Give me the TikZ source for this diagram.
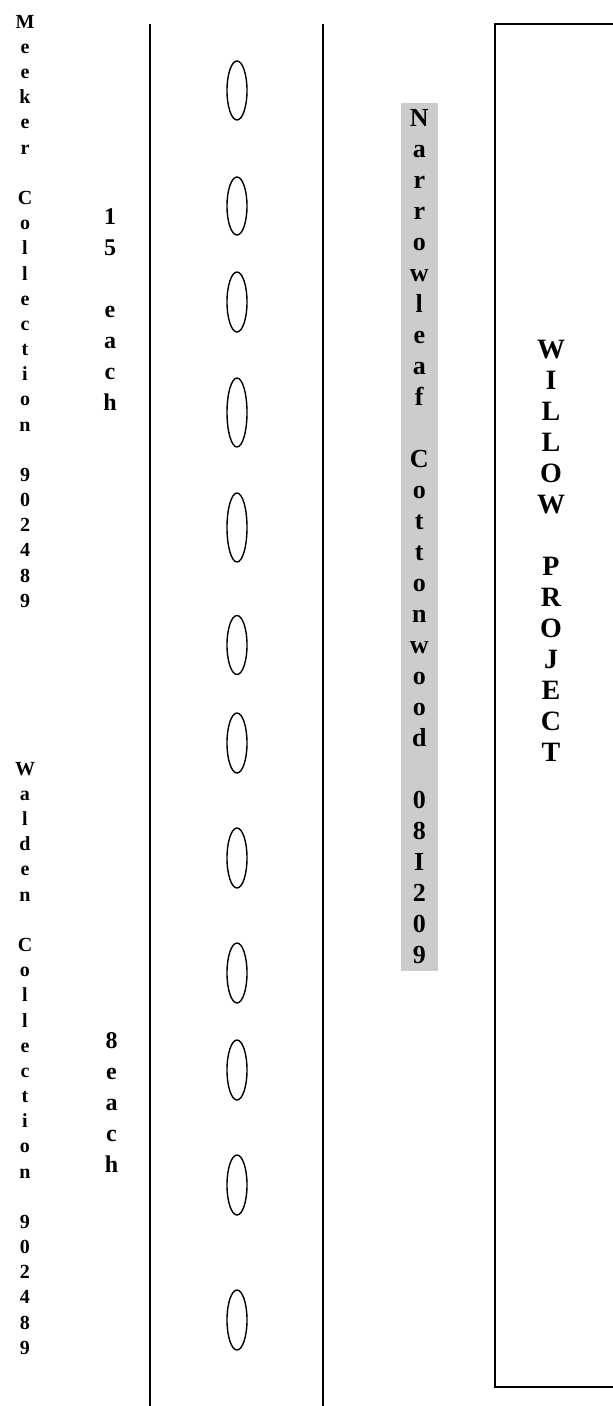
\documentclass[tikz,border=0pt]{standalone}
\usepackage{fontspec}
\setmainfont{Liberation Serif}
\usepackage{xcolor}
\usepackage{tikz}
\usetikzlibrary{positioning,shapes.geometric}
\definecolor{wpgray}{RGB}{204,204,204}
\tikzset{
  rail/.style={draw=black, line width=2pt},
  plant/.style={ellipse, draw=black, line width=1.4pt, minimum width=20pt,
                minimum height=59pt, inner sep=0pt},
  coll/.style={anchor=north, align=center, inner sep=0pt,
               font=\fontsize{20}{25.17}\selectfont\bfseries},
  qty/.style={anchor=north, align=center, inner sep=0pt,
              font=\fontsize{24}{31}\selectfont\bfseries},
  clone/.style={anchor=north, align=center, fill=wpgray, inner xsep=0pt,
                inner ysep=7pt, minimum width=37pt,
                font=\fontsize{26}{31}\selectfont\bfseries},
  banner/.style={anchor=north, align=center, inner sep=0pt,
                 font=\fontsize{28}{31}\selectfont\bfseries},
}
\begin{document}
\begin{tikzpicture}[x=1pt, y=-1pt]
\useasboundingbox (0,0) rectangle (613,1406);
% Planting row seen from above: two rails, one line of plants between
% them, the two source collections on the left, the clone on the right.
\def\xa{150} \def\xb{323} \def\xp{237}

% row edges
\draw[rail] (\xa,24) -- (\xa,1406);
\draw[rail] (\xb,24) -- (\xb,1406);

% plants, two longer ones in the Meeker stretch
\foreach \py/\ph [count=\i] in {90.5/59, 206/58, 302/60, 412.5/69, 527.5/69,
                                645/59, 743/60, 858/60, 973/60, 1070/60,
                                1185/60, 1320/60}
  \node[plant, minimum height=\ph pt] (p\i) at (\xp,\py) {};

% source collections, read top to bottom
\node[coll] (meeker) at (25,15)
  {M\\e\\e\\k\\e\\r\\~\\C\\o\\l\\l\\e\\c\\t\\i\\o\\n\\~\\9\\0\\2\\4\\8\\9};
\node[coll] (walden) at (25,762)
  {W\\a\\l\\d\\e\\n\\~\\C\\o\\l\\l\\e\\c\\t\\i\\o\\n\\~\\9\\0\\2\\4\\8\\9};

% how many of each
\node[qty] (meekerqty) at (110,208) {1\\5\\~\\e\\a\\c\\h};
\node[qty] (waldenqty) at (111.5,1032) {8\\e\\a\\c\\h};

% clone label on grey
\node[clone] (clone) at (419.3,102.3)
  {N\\a\\r\\r\\o\\w\\l\\e\\a\\f\\~\\C\\o\\t\\t\\o\\n\\w\\o\\o\\d\\~\\0\\8\\I\\2\\0\\9};

% project box, open past the right edge
\draw[line width=2.2pt] (613,24) -- (495,24) -- (495,1387) -- (613,1387);
\node[banner] (project) at (551,340)
  {W\\I\\L\\L\\O\\W\\~\\P\\R\\O\\J\\E\\C\\T};
\end{tikzpicture}
\end{document}
